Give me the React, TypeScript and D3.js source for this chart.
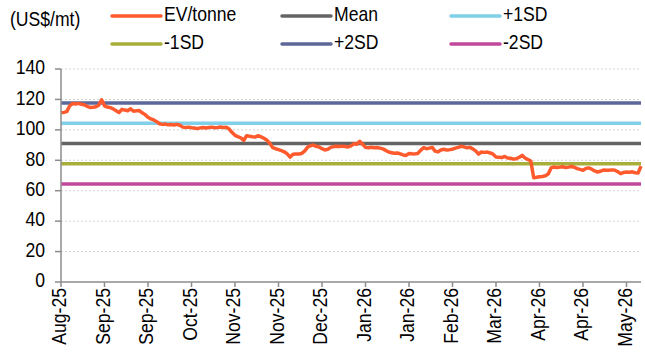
import React from "react";
import * as d3 from "d3";

const tickLabels = ["Aug-25","Sep-25","Sep-25","Oct-25","Nov-25","Nov-25","Dec-25","Jan-26","Jan-26","Feb-26","Mar-26","Apr-26","Apr-26","May-26"];
const tickEvery = 15;

const evTonne = [
  111.2,111.5,112,115.8,117.3,117,117.4,116.8,116.5,115.5,
  114.7,114.8,115.2,116.2,119.8,115.8,115,114.6,113.8,112.6,
  111.4,113.5,113,112.6,113.9,112.2,112.5,112.7,111.2,110,
  108.3,107.2,106.5,105.4,104,103.6,103.8,103.3,103.5,103.2,
  103.6,103,101.8,101.5,101.8,101.4,101.2,100.8,101.3,101.6,
  101.2,101.5,101.8,101.4,101.6,101.9,101.5,101.7,100.5,98.2,
  96.4,95.5,94.8,93,96.2,95.8,95.5,95.3,96.2,95.4,
  94.5,93.2,91.2,88.3,87.6,87,86.4,85.6,84.2,82.1,
  84,84.2,84.1,84.5,86,88.5,89.6,90,89.2,88.7,
  87.6,86.8,87.2,88.5,89,89.2,89,89.3,89.1,88.8,
  89.5,90.8,90.6,92.5,90.5,88.5,88.2,88.6,88.2,88.4,
  88,87.5,86.5,85.4,85,84.6,84.8,84.2,83.5,83.2,
  84.5,84.3,84.2,84.5,86.5,88.3,87.6,88,88.5,86,
  85.5,86.8,87.2,86.8,87,87.3,88,88.5,89.2,88.8,
  88.2,88.5,87.5,86.2,84,85.5,85.2,85.4,84.8,84,
  82.2,82,81.8,82.5,81.5,81.3,80.8,81,82,83.2,
  81.5,80.5,79.5,68.5,68.8,69.2,69.4,69.8,71,75,
  75.6,75.2,75.5,75.8,75.2,75.5,75.9,75.4,74.5,74,
  73.4,74.6,75,74.2,73,72.3,72.8,73.6,73.5,73.4,
  73.7,73.5,72.5,71.2,72,72.3,72.1,72.4,71.8,71.6,
  76.2
];

const meanValue = 91.0;
const sdValue = 13.3;

const seriesNames = ["EV/tonne","Mean","+1SD","-1SD","+2SD","-2SD"];
const seriesColors = ["#FF5A2D","#646464","#7FD0E8","#A8AE3A","#5D6799","#C1489B"];
const bandMultipliers = [0, 1, -1, 2, -2];

const yTicks = [0,20,40,60,80,100,120,140];

const W = 645, H = 354;
const left = 61, right = 641, top = 69, bottom = 282;
const font = "'Liberation Sans', Arial, sans-serif";
const FS = 20;
const SX = 0.88;

function Label({ x, y, rotate = 0, anchor = "start", children }: any) {
  return (
    <g transform={`translate(${x},${y}) rotate(${rotate}) scale(${SX},1)`}>
      <text x={0} y={0} textAnchor={anchor} dominantBaseline="middle" fontFamily={font} fontSize={FS} fill="#000">{children}</text>
    </g>
  );
}

export default function App() {
  const n = evTonne.length;
  const x = d3.scaleLinear().domain([0, n - 1]).range([left, right]);
  const y = d3.scaleLinear().domain([0, 140]).range([bottom, top]);
  const line = d3.line<number>().x((_, i) => x(i)).y(d => y(d));
  const tickIdx = tickLabels.map((_, i) => i * tickEvery);
  const bandVals = bandMultipliers.map(m => meanValue + m * sdValue);

  const legendCols = [112, 282, 451];
  const legendRows = [16, 44];

  return (
    <svg width={W} height={H} style={{ position: "absolute", left: 0, top: 0, background: "#fff" }}>
      <Label x={10} y={21}>(US$/mt)</Label>
      {seriesNames.map((name, i) => {
        const cx = legendCols[i % 3];
        const cy = legendRows[Math.floor(i / 3)];
        return (
          <g key={name}>
            <line x1={cx} x2={cx + 49} y1={cy} y2={cy} stroke={seriesColors[i]} strokeWidth={3.5} strokeLinecap="round" />
            <Label x={cx + 52} y={cy}>{name}</Label>
          </g>
        );
      })}
      {yTicks.filter(t => t > 0).map(t => (
        <line key={"g" + t} x1={left} x2={right} y1={y(t)} y2={y(t)} stroke="#d4d4d4" strokeWidth={1} strokeDasharray="2,2" />
      ))}
      {bandVals.map((v, i) => (
        <line key={"b" + i} x1={left} x2={right} y1={y(v)} y2={y(v)} stroke={seriesColors[i + 1]} strokeWidth={3.5} />
      ))}
      <path d={line(evTonne) || ""} fill="none" stroke={seriesColors[0]} strokeWidth={3.5} strokeLinejoin="round" />
      <line x1={left} x2={left} y1={top} y2={bottom} stroke="#8c8c8c" strokeWidth={1.5} />
      <line x1={left} x2={right} y1={bottom} y2={bottom} stroke="#8c8c8c" strokeWidth={1.5} />
      {yTicks.map(t => (
        <g key={"y" + t}>
          <line x1={left - 6} x2={left} y1={y(t)} y2={y(t)} stroke="#8c8c8c" strokeWidth={1.5} />
          <Label x={left - 16} y={y(t)} anchor="end">{t}</Label>
        </g>
      ))}
      {tickIdx.map((ti, i) => (
        <g key={"x" + i}>
          <line x1={x(ti)} x2={x(ti)} y1={bottom} y2={bottom + 5} stroke="#8c8c8c" strokeWidth={1.5} />
          <Label x={x(ti)} y={bottom + 6} rotate={-90} anchor="end">{tickLabels[i]}</Label>
        </g>
      ))}
    </svg>
  );
}
